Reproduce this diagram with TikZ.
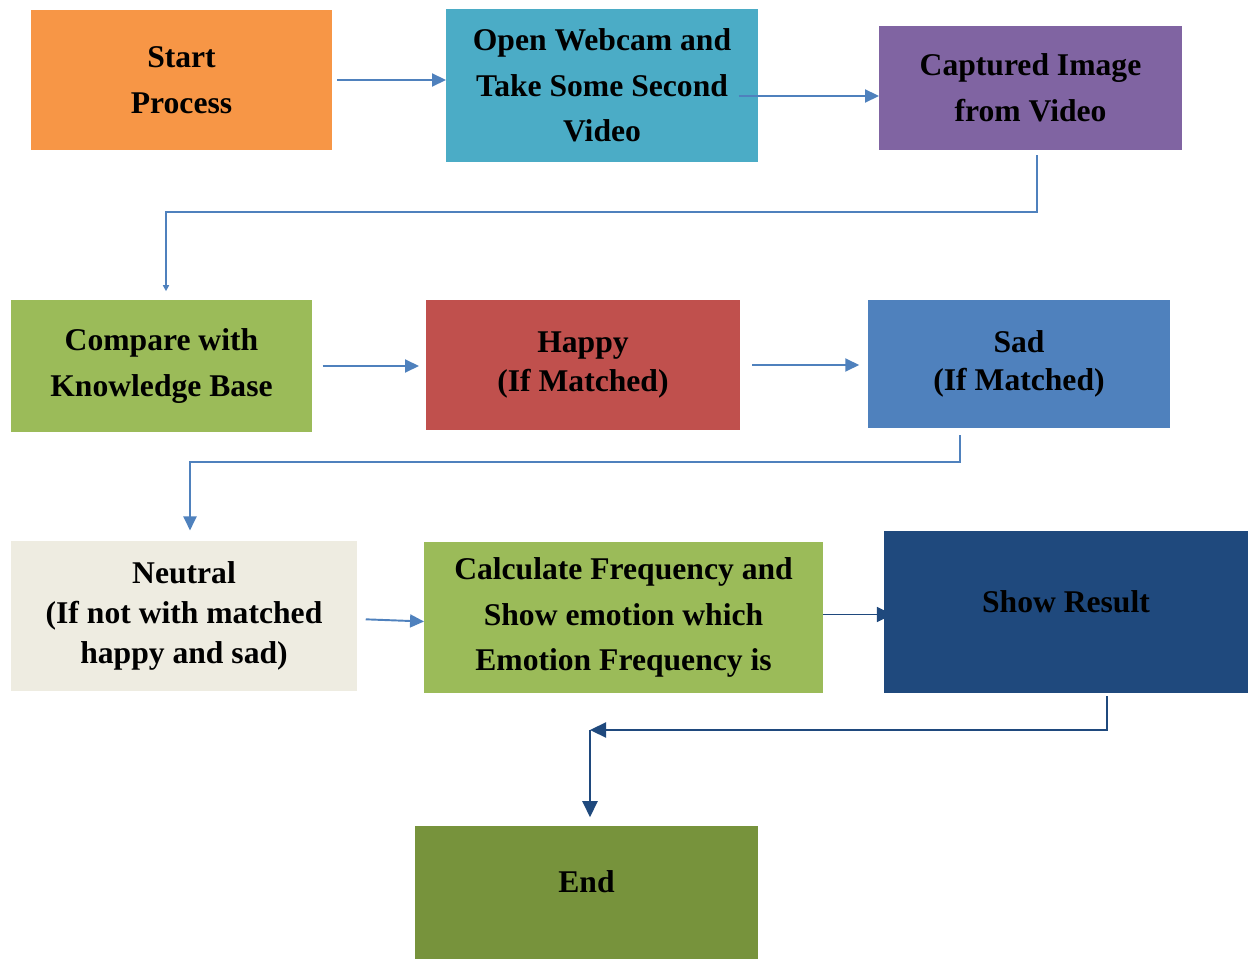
\documentclass[tikz,border=0pt]{standalone}
\usepackage{fontspec}
\setmainfont{Liberation Serif}
\usetikzlibrary{arrows.meta}
\definecolor{startorange}{HTML}{F79646}
\definecolor{camteal}{HTML}{4BACC6}
\definecolor{grabpurple}{HTML}{8064A2}
\definecolor{kbgreen}{HTML}{9BBB59}
\definecolor{happyred}{HTML}{C0504D}
\definecolor{sadblue}{HTML}{4F81BD}
\definecolor{neutralcream}{HTML}{EEECE1}
\definecolor{resultblue}{HTML}{1F497D}
\definecolor{endolive}{HTML}{77933C}
\definecolor{linkblue}{HTML}{4F81BD}
\begin{document}
\begin{tikzpicture}[x=0.02cm,y=-0.02cm,
 every node/.style={font=\fontsize{18}{26}\selectfont\bfseries},
 box/.style={rectangle,inner sep=0pt,outer sep=0pt,align=center},
 tight/.style={font=\fontsize{18}{22}\selectfont\bfseries},
 lifted/.style={text height=0.45cm,text depth=0.45cm},
 link/.style={draw=linkblue,line width=1.1pt,-{Triangle[length=0.28cm,width=0.26cm]}},
 darklink/.style={draw=resultblue,line width=1.3pt,-{Triangle[length=0.32cm,width=0.3cm]}}]
 \useasboundingbox (0,0) rectangle (1248,959);
 % first row
 \node[box,fill=startorange,minimum width=6.02cm,minimum height=2.8cm] (start) at (181.5,80) {Start\\Process};
 \node[box,fill=camteal,minimum width=6.24cm,minimum height=3.06cm] (webcam) at (602,85.5) {Open Webcam and\\Take Some Second\\Video};
 \node[box,fill=grabpurple,minimum width=6.06cm,minimum height=2.48cm] (capture) at (1030.5,88) {Captured Image\\from Video};
 % second row
 \node[box,fill=kbgreen,minimum width=6.02cm,minimum height=2.64cm] (compare) at (161.5,366) {Compare with\\Knowledge Base};
 \node[box,tight,fill=happyred,minimum width=6.28cm,minimum height=2.6cm] (happy) at (583,365) {Happy\\(If Matched)};
 \node[box,tight,fill=sadblue,minimum width=6.04cm,minimum height=2.56cm] (sad) at (1019,364) {Sad\\(If Matched)};
 % third row
 \node[box,font=\fontsize{18}{23}\selectfont\bfseries,fill=neutralcream,minimum width=6.92cm,minimum height=3.0cm] (neutral) at (184,616) {Neutral\\(If not with matched\\happy and sad)};
 \node[box,fill=kbgreen,minimum width=7.98cm,minimum height=3.02cm] (calc) at (623.5,617.5) {Calculate Frequency and\\Show emotion which\\Emotion Frequency is};
 \node[box,lifted,fill=resultblue,minimum width=7.28cm,minimum height=3.24cm] (result) at (1066,612) {Show Result};
 % last
 \node[box,lifted,fill=endolive,minimum width=6.86cm,minimum height=2.66cm] (finish) at (586.5,892.5) {End};
 \coordinate (bend) at (590,730);
 \coordinate (capin) at ([yshift=-0.16cm]capture.west);
 \coordinate (calcout) at ([yshift=0.06cm]calc.east);
 % connectors
 \draw[link,shorten <=3pt] (start.east) -- (webcam.west |- start.east);
 \draw[link,shorten <=-11pt] (webcam.east |- capin) -- (capin);
 \draw[link,-{Triangle[length=0.12cm,width=0.12cm]},shorten <=3pt,shorten >=5pt] ([xshift=0.13cm]capture.south) -- ++(0,62) -| ([xshift=0.09cm]compare.north);
 \draw[link,shorten <=6pt,shorten >=4pt] (compare.east) -- (happy.west |- compare.east);
 \draw[link,shorten <=7pt,shorten >=5pt] (happy.east) -- (sad.west |- happy.east);
 \draw[link,shorten <=4pt,shorten >=6pt] ([xshift=-1.18cm]sad.south) -- ++(0,34) -| ([xshift=0.12cm]neutral.north);
 \draw[link,shorten <=5pt] ([yshift=-0.06cm]neutral.east) -- ([yshift=-0.08cm]calc.west);
 \draw[darklink,line width=1pt,shorten >=-5pt] (calcout) -- (result.west |- calcout);
 \draw[darklink,shorten <=2pt] ([xshift=0.82cm]result.south) |- (bend);
 \draw[darklink,shorten >=5pt] (bend) -- (finish.north -| bend);
\end{tikzpicture}
\end{document}
